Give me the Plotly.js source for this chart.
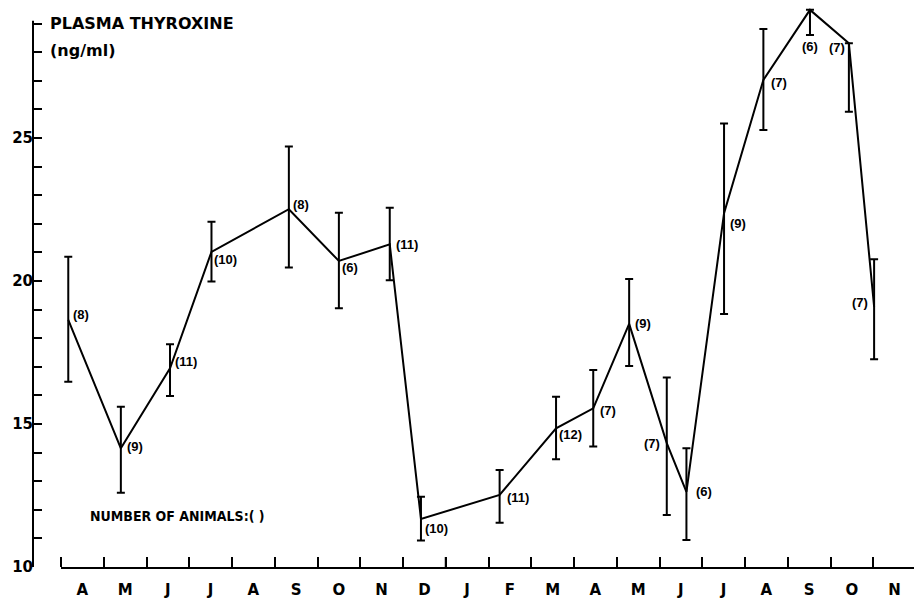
<!DOCTYPE html>
<html>
<head>
<meta charset="utf-8">
<script src="https://cdn.plot.ly/plotly-3.0.1.min.js"></script>
<style>html,body{margin:0;padding:0;background:#fff;}#chart{width:914px;height:598px;}</style>
</head>
<body>
<div id="chart"></div>
<script>
// x position: months elapsed since the start of April (year 1)
var monthPos = [0.17, 1.40, 2.55, 3.52, 5.33, 6.50, 7.69, 8.42, 10.26, 11.58, 12.45, 13.29, 14.17, 14.63, 15.51, 16.43, 17.52, 18.43, 19.02];
var thyroxineMean = [18.64, 14.15, 16.95, 21.02, 22.51, 20.70, 21.28, 11.68, 12.52, 14.85, 15.55, 18.50, 14.33, 12.63, 22.37, 27.03, 29.48, 28.31, 19.10];
var errUpper = [20.85, 15.60, 17.79, 22.07, 24.70, 22.39, 22.56, 12.46, 13.39, 15.95, 16.89, 20.07, 16.63, 14.15, 25.51, 28.81, 29.48, 28.31, 20.76];
var errLower = [16.48, 12.60, 15.98, 19.98, 20.47, 19.05, 20.03, 10.93, 11.55, 13.77, 14.21, 17.03, 11.82, 10.94, 18.85, 25.28, 28.60, 25.92, 17.26];
var nAnimals = [8, 9, 11, 10, 8, 6, 11, 10, 11, 12, 7, 9, 7, 6, 9, 7, 6, 7, 7];
var monthLabels = ['A','M','J','J','A','S','O','N','D','J','F','M','A','M','J','J','A','S','O','N'];
var yearBoundary = 9;
var yTickValues = [10,11,12,13,14,15,16,17,18,19,20,21,22,23,24,25,26,27,28,29];
var yTitle = ['PLASMA THYROXINE', '(ng/ml)'];
var noteText = 'NUMBER OF ANIMALS:( )';

// label placement (style only)
var labelStyle = [
  {a:'left', dx:3, dy:5}, {a:'left', dx:4, dy:2}, {a:'left', dx:3, dy:7}, {a:'left', dx:1, dy:-8},
  {a:'left', dx:2, dy:5}, {a:'left', dx:1, dy:-7}, {a:'left', dx:4, dy:0}, {a:'left', dx:2, dy:-10},
  {a:'left', dx:5, dy:-3}, {a:'left', dx:1, dy:-6}, {a:'left', dx:5, dy:-2}, {a:'left', dx:4, dy:0},
  {a:'right', dx:-5, dy:0}, {a:'left', dx:8, dy:0}, {a:'left', dx:4, dy:-10}, {a:'left', dx:6, dy:-3},
  {a:'center', dx:0, dy:-37}, {a:'right', dx:-2, dy:-4}, {a:'right', dx:-4, dy:4}
];

var plus = thyroxineMean.map(function(v, i){ return errUpper[i] - v; });
var minus = thyroxineMean.map(function(v, i){ return v - errLower[i]; });

var countFont = {family: 'Liberation Sans, Arial, sans-serif', size: 13, color: '#000', weight: 'bold'};
var PH = 567; // plot area height in px (paper y is relative to it)

var annotations = nAnimals.map(function(n, i){
  var s = labelStyle[i];
  return {x: monthPos[i], y: thyroxineMean[i], xref: 'x', yref: 'y', text: '(' + n + ')',
          showarrow: false, xanchor: s.a, yanchor: 'middle', xshift: s.dx, yshift: s.dy, font: countFont};
});
annotations.push({x: 48/914, y: 1 - 23/PH, xref: 'paper', yref: 'paper', text: yTitle[0], showarrow: false,
  xanchor: 'left', yanchor: 'middle', font: {family: 'DejaVu Sans, sans-serif', size: 16, color: '#000', weight: 'bold'}});
annotations.push({x: 48/914, y: 1 - 50/PH, xref: 'paper', yref: 'paper', text: yTitle[1], showarrow: false,
  xanchor: 'left', yanchor: 'middle', font: {family: 'DejaVu Sans, sans-serif', size: 16, color: '#000', weight: 'bold'}});
annotations.push({x: 88/914, y: 1 - 516/PH, xref: 'paper', yref: 'paper', text: noteText, showarrow: false,
  xanchor: 'left', yanchor: 'middle', font: {family: 'DejaVu Sans Condensed, DejaVu Sans, sans-serif', size: 14, color: '#000', weight: 'bold'}});

var trace = {
  x: monthPos, y: thyroxineMean, type: 'scatter', mode: 'lines',
  line: {color: '#000', width: 2},
  error_y: {type: 'data', symmetric: false, array: plus, arrayminus: minus, color: '#000', thickness: 2, width: 4},
  hoverinfo: 'skip', showlegend: false
};

var labelPos = monthLabels.map(function(m, i){ return i + 0.5; });

var layout = {
  width: 914, height: 598,
  margin: {l: 0, r: 0, t: 0, b: 31, pad: 0},
  paper_bgcolor: '#fff', plot_bgcolor: '#fff',
  showlegend: false,
  xaxis: {
    domain: [61/914, 1], range: [0, 853/42.75],
    showgrid: false, zeroline: false,
    showline: true, linecolor: '#000', linewidth: 2,
    tickmode: 'array', tickvals: labelPos, ticktext: monthLabels,
    ticks: '', ticklabelstandoff: 8,
    tickfont: {family: 'DejaVu Sans, sans-serif', size: 15, color: '#000', weight: 'bold'},
    minor: {tickmode: 'linear', tick0: 0, dtick: 1, ticks: 'inside', ticklen: 10, tickwidth: 2, tickcolor: '#000', showgrid: false}
  },
  yaxis: {
    anchor: 'free', position: 33/914,
    range: [10, 10 + 567/28.6],
    showgrid: false, zeroline: false, showline: false,
    tickmode: 'array', tickvals: yTickValues,
    ticktext: yTickValues.map(function(v){ return v % 5 === 0 ? String(v) : ''; }),
    ticks: 'inside', ticklen: 8, tickwidth: 2, tickcolor: '#000',
    tickfont: {family: 'DejaVu Sans, sans-serif', size: 15, color: '#000', weight: 'bold'}
  },
  shapes: [
    {type: 'line', xref: 'paper', yref: 'y', x0: 33/914, x1: 33/914, y0: 10, y1: 29.1, line: {color: '#000', width: 2}},
    {type: 'line', xref: 'x', yref: 'y', ysizemode: 'pixel', yanchor: 10, x0: yearBoundary, x1: yearBoundary, y0: -11, y1: 10, line: {color: '#000', width: 2}}
  ],
  annotations: annotations
};

Plotly.newPlot('chart', [trace], layout, {staticPlot: true, displayModeBar: false});
</script>
</body>
</html>
